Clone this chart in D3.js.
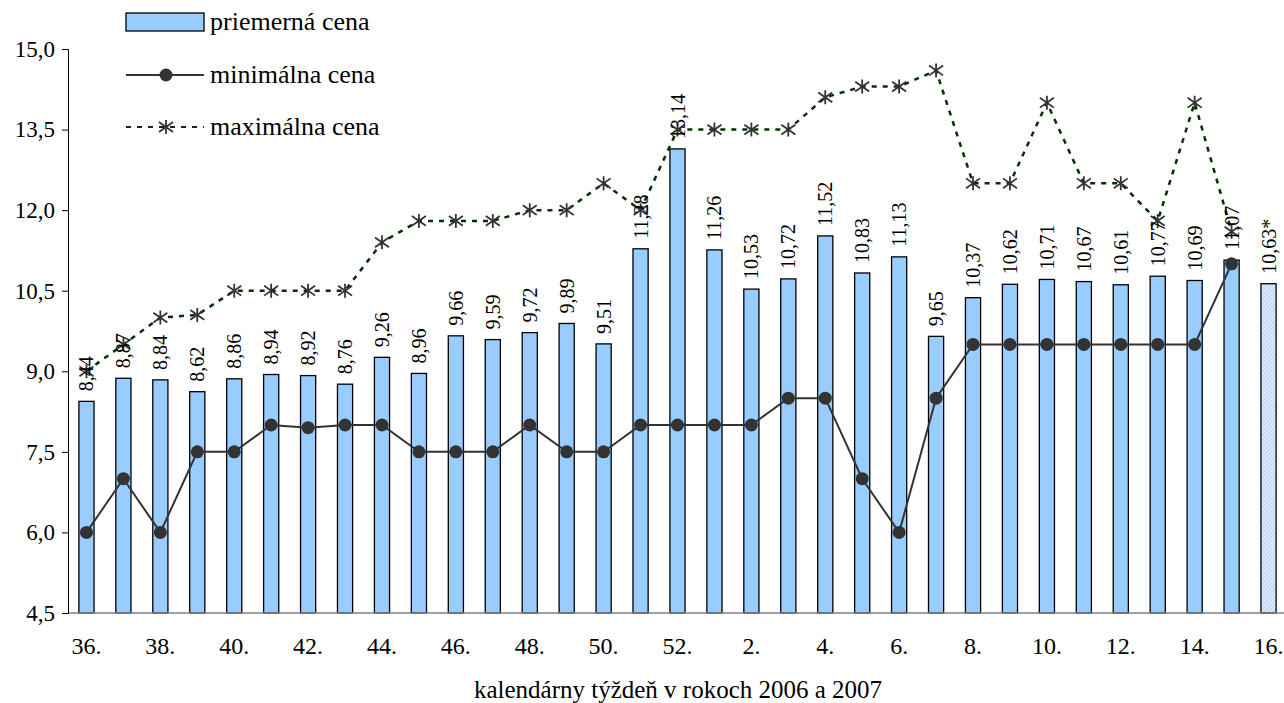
<!DOCTYPE html>
<html><head><meta charset="utf-8">
<script src="https://cdn.jsdelivr.net/npm/d3@7"></script>
<style>body{margin:0;background:#fff}svg{display:block}</style>
</head><body>
<svg id="c" width="1284" height="703"></svg>
<script>
const weeks = ["36.","37.","38.","39.","40.","41.","42.","43.","44.","45.","46.","47.","48.","49.","50.","51.","52.","1.","2.","3.","4.","5.","6.","7.","8.","9.","10.","11.","12.","13.","14.","15.","16."];
const avgPrice = [8.44,8.87,8.84,8.62,8.86,8.94,8.92,8.76,9.26,8.96,9.66,9.59,9.72,9.89,9.51,11.28,13.14,11.26,10.53,10.72,11.52,10.83,11.13,9.65,10.37,10.62,10.71,10.67,10.61,10.77,10.69,11.07,10.63];
const avgLabels = ["8,44","8,87","8,84","8,62","8,86","8,94","8,92","8,76","9,26","8,96","9,66","9,59","9,72","9,89","9,51","11,28","13,14","11,26","10,53","10,72","11,52","10,83","11,13","9,65","10,37","10,62","10,71","10,67","10,61","10,77","10,69","11,07","10,63*"];
const minPrice = [6.0,7.0,6.0,7.5,7.5,8.0,7.95,8.0,8.0,7.5,7.5,7.5,8.0,7.5,7.5,8.0,8.0,8.0,8.0,8.5,8.5,7.0,6.0,8.5,9.5,9.5,9.5,9.5,9.5,9.5,9.5,11.0,null];
const maxPrice = [9.0,9.5,10.0,10.05,10.5,10.5,10.5,10.5,11.4,11.8,11.8,11.8,12.0,12.0,12.5,12.0,13.5,13.5,13.5,13.5,14.1,14.3,14.3,14.6,12.5,12.5,14.0,12.5,12.5,11.8,14.0,11.6,null];
const yTicks = [4.5,6.0,7.5,9.0,10.5,12.0,13.5,15.0];
const shownTicks = ["36.","38.","40.","42.","44.","46.","48.","50.","52.","2.","4.","6.","8.","10.","12.","14.","16."];
const legendNames = ["priemerná cena","minimálna cena","maximálna cena"];
const xTitle = "kalendárny týždeň v rokoch 2006 a 2007";

const FONT = "'Liberation Serif', 'Times New Roman', serif";
const svg = d3.select("#c").attr("font-family",FONT);
const defs = svg.append("defs");
const pat = defs.append("pattern").attr("id","hatch").attr("patternUnits","userSpaceOnUse").attr("width",3).attr("height",3).attr("patternTransform","rotate(45)");
pat.append("rect").attr("width",3).attr("height",3).attr("fill","#dcebfb");
pat.append("line").attr("x1",0).attr("y1",0).attr("x2",0).attr("y2",3).attr("stroke","#9cc4ee").attr("stroke-width",1.2);

const x = d3.scaleBand().domain(weeks).range([68,1287]).paddingInner(0.59).paddingOuter(0.295);
const y = d3.scaleLinear().domain([4.5,15]).range([613,49]);
const cx = d => x(d)+x.bandwidth()/2;

// bars
svg.append("g").selectAll("rect").data(weeks).join("rect")
  .attr("x",d=>x(d)).attr("width",x.bandwidth())
  .attr("y",(d,i)=>y(avgPrice[i])).attr("height",(d,i)=>y(4.5)-y(avgPrice[i]))
  .attr("fill",(d,i)=>i===weeks.length-1?"url(#hatch)":"#99ccff")
  .attr("stroke","#000").attr("stroke-width",1.3);

// x axis
const xa = svg.append("g").attr("transform","translate(0,613)")
  .call(d3.axisBottom(x).tickSize(0).tickFormat(d=>shownTicks.includes(d)?d:""));
xa.attr("font-family",FONT);
xa.select(".domain").attr("stroke","#808080").attr("stroke-width",1.5).attr("d","M68,0H1284");
xa.selectAll("text").attr("font-size",24).attr("dy","0").attr("y",41).attr("font-family",FONT).attr("fill","#000");

// y axis
const ya = svg.append("g").attr("transform","translate(68,0)")
  .call(d3.axisLeft(y).tickValues(yTicks).tickSize(6).tickPadding(7).tickFormat(d=>d3.format(".1f")(d).replace(".",",")));
ya.attr("font-family",FONT);
ya.select(".domain").attr("stroke","#000").attr("stroke-width",1);
ya.selectAll("line").attr("stroke","#000");
ya.selectAll("text").attr("font-size",23).attr("font-family",FONT).attr("fill","#000");

// min line
const idx = d3.range(weeks.length);
const minIdx = idx.filter(i=>minPrice[i]!=null);
svg.append("path").datum(minIdx)
  .attr("d",d3.line().x(i=>cx(weeks[i])).y(i=>y(minPrice[i])))
  .attr("fill","none").attr("stroke","#333").attr("stroke-width",2);
svg.append("g").selectAll("circle").data(minIdx).join("circle")
  .attr("cx",i=>cx(weeks[i])).attr("cy",i=>y(minPrice[i])).attr("r",6.5).attr("fill","#333");

// max line
const maxIdx = idx.filter(i=>maxPrice[i]!=null);
svg.append("path").datum(maxIdx)
  .attr("d",d3.line().x(i=>cx(weeks[i])).y(i=>y(maxPrice[i])))
  .attr("fill","none").attr("stroke","#003300").attr("stroke-width",2.5).attr("stroke-dasharray","5,6");
function star(g, px, py){
  const s=7;
  g.append("path").attr("d",`M${px},${py-s}V${py+s}M${px-s},${py-s*0.7}L${px+s},${py+s*0.7}M${px-s},${py+s*0.7}L${px+s},${py-s*0.7}`)
    .attr("stroke","#333").attr("stroke-width",1.8).attr("fill","none");
}
const sg = svg.append("g");
maxIdx.forEach(i=>star(sg,cx(weeks[i]),y(maxPrice[i])));

// value labels
svg.append("g").selectAll("text").data(idx).join("text")
  .attr("transform",i=>`translate(${cx(weeks[i])+7},${y(avgPrice[i])-10}) rotate(-90)`)
  .attr("font-size",20).attr("font-family",FONT).attr("fill","#000").text(i=>avgLabels[i]);

// legend
const lg = svg.append("g");
lg.append("rect").attr("x",126).attr("y",13).attr("width",78).attr("height",18).attr("fill","#99ccff").attr("stroke","#000").attr("stroke-width",1.3);
lg.append("text").attr("x",210).attr("y",30).attr("font-size",26).attr("font-family",FONT).text(legendNames[0]);
lg.append("line").attr("x1",126).attr("x2",204).attr("y1",75).attr("y2",75).attr("stroke","#333").attr("stroke-width",2);
lg.append("circle").attr("cx",166).attr("cy",75).attr("r",6.5).attr("fill","#333");
lg.append("text").attr("x",210).attr("y",83).attr("font-size",26).attr("font-family",FONT).text(legendNames[1]);
lg.append("line").attr("x1",126).attr("x2",204).attr("y1",127).attr("y2",127).attr("stroke","#003300").attr("stroke-width",2).attr("stroke-dasharray","5,6");
star(lg,166,127);
lg.append("text").attr("x",210).attr("y",135).attr("font-size",26).attr("font-family",FONT).text(legendNames[2]);

// x title
svg.append("text").attr("x",678).attr("y",698).attr("text-anchor","middle").attr("font-size",25).attr("font-family",FONT).text(xTitle);
</script>
</body></html>
